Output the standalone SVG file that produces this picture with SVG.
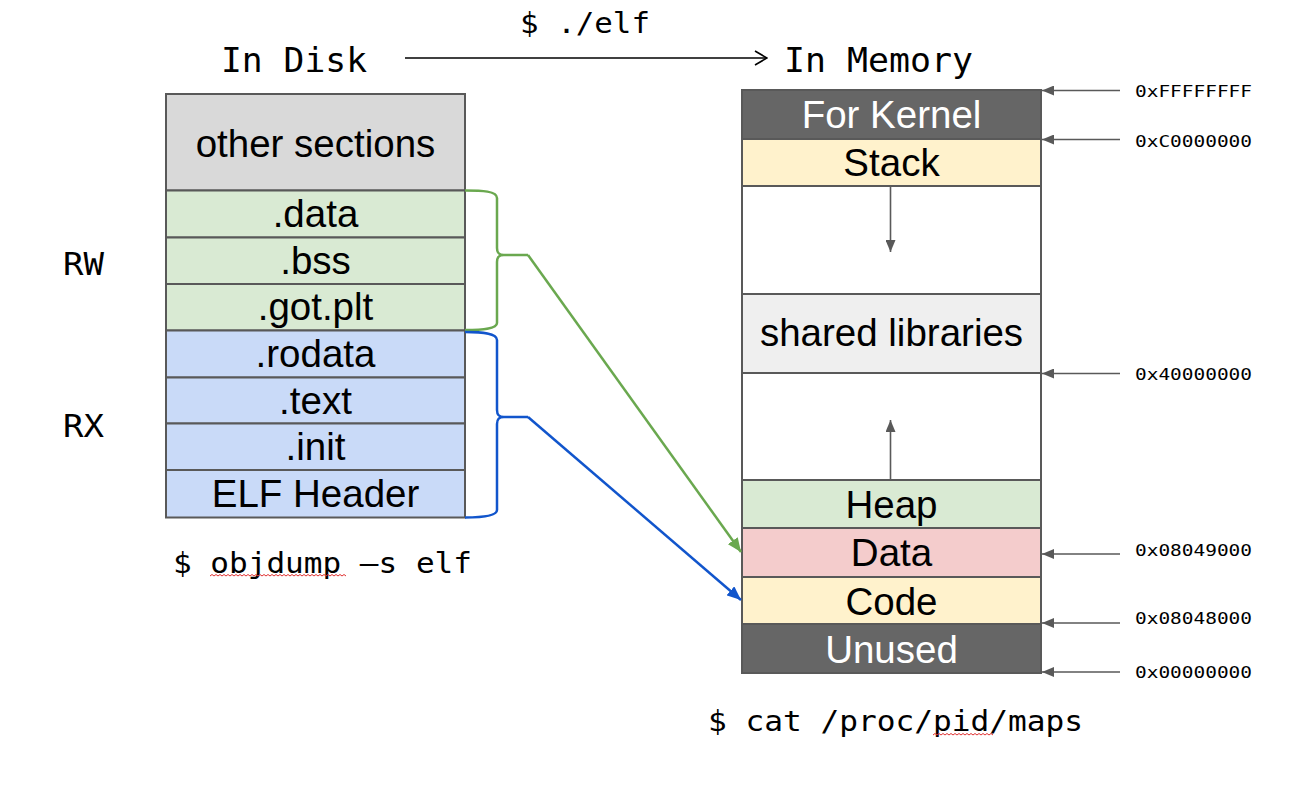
<svg xmlns="http://www.w3.org/2000/svg" width="1305" height="786" viewBox="0 0 1305 786">
<defs>
<style>
.box{stroke:#595959;stroke-width:2}
.sans{font-family:"Liberation Sans",Arial,sans-serif;font-size:38.5px;text-anchor:middle;fill:#000}
.wt{fill:#fff}
.mono{font-family:"DejaVu Sans Mono","Liberation Mono",monospace;fill:#000}
.addr{font-family:"DejaVu Sans Mono","Liberation Mono",monospace;font-size:16px;fill:#000}
.gl{stroke:#595959;stroke-width:1.6;fill:none}
.sq{stroke:#e03030;stroke-width:1;fill:none}
</style>
<marker id="ahGray" viewBox="0 0 12 10" refX="12" refY="5" markerWidth="12" markerHeight="10" markerUnits="userSpaceOnUse" orient="auto"><path d="M0,0 L12,5 L0,10 z" fill="#595959"/></marker>
<marker id="ahG" viewBox="0 0 14 12" refX="14" refY="6" markerWidth="14" markerHeight="12" markerUnits="userSpaceOnUse" orient="auto"><path d="M0,0 L14,6 L0,12 z" fill="#6aa84f"/></marker>
<marker id="ahB" viewBox="0 0 14 12" refX="14" refY="6" markerWidth="14" markerHeight="12" markerUnits="userSpaceOnUse" orient="auto"><path d="M0,0 L14,6 L0,12 z" fill="#1155cc"/></marker>
<marker id="ahOpen" viewBox="0 0 14 16" refX="13" refY="8" markerWidth="14" markerHeight="16" markerUnits="userSpaceOnUse" orient="auto"><path d="M1,1 L13,8 L1,15" fill="none" stroke="#000" stroke-width="1.6"/></marker>
</defs>
<rect width="1305" height="786" fill="#fff"/>

<!-- titles -->
<g id="title-disk"><text class="mono" x="221" y="72" font-size="34" textLength="146" lengthAdjust="spacingAndGlyphs">In Disk</text></g>
<g id="title-memory"><text class="mono" x="784" y="72" font-size="34" textLength="189" lengthAdjust="spacingAndGlyphs">In Memory</text></g>
<g id="label-run"><text class="mono" x="520" y="33" font-size="28" textLength="130" lengthAdjust="spacingAndGlyphs">$ ./elf</text></g>
<g id="label-rw"><text class="mono" x="63" y="275" font-size="32" textLength="41" lengthAdjust="spacingAndGlyphs">RW</text></g>
<g id="label-rx"><text class="mono" x="63" y="437" font-size="32" textLength="41" lengthAdjust="spacingAndGlyphs">RX</text></g>
<g id="label-objdump">
<text class="mono" x="173" y="573" font-size="29" textLength="299" lengthAdjust="spacingAndGlyphs">$ objdump –s elf</text>
<path class="sq" d="M210,576 l2,-1.5 l2,1.5 l2,-1.5 l2,1.5 l2,-1.5 l2,1.5 l2,-1.5 l2,1.5 l2,-1.5 l2,1.5 l2,-1.5 l2,1.5 l2,-1.5 l2,1.5 l2,-1.5 l2,1.5 l2,-1.5 l2,1.5 l2,-1.5 l2,1.5 l2,-1.5 l2,1.5 l2,-1.5 l2,1.5 l2,-1.5 l2,1.5 l2,-1.5 l2,1.5 l2,-1.5 l2,1.5 l2,-1.5 l2,1.5 l2,-1.5 l2,1.5 l2,-1.5 l2,1.5 l2,-1.5 l2,1.5 l2,-1.5 l2,1.5 l2,-1.5 l2,1.5 l2,-1.5 l2,1.5 l2,-1.5 l2,1.5 l2,-1.5 l2,1.5 l2,-1.5 l2,1.5 l2,-1.5 l2,1.5 l2,-1.5 l2,1.5 l2,-1.5 l2,1.5 l2,-1.5 l2,1.5 l2,-1.5 l2,1.5 l2,-1.5 l2,1.5 l2,-1.5 l2,1.5 l2,-1.5 l2,1.5 l2,-1.5 l2,1.5"/>
</g>
<g id="label-maps">
<text class="mono" x="708" y="731" font-size="29" textLength="375" lengthAdjust="spacingAndGlyphs">$ cat /proc/pid/maps</text>
<path class="sq" d="M933,735 l2,-1.5 l2,1.5 l2,-1.5 l2,1.5 l2,-1.5 l2,1.5 l2,-1.5 l2,1.5 l2,-1.5 l2,1.5 l2,-1.5 l2,1.5 l2,-1.5 l2,1.5 l2,-1.5 l2,1.5 l2,-1.5 l2,1.5 l2,-1.5 l2,1.5 l2,-1.5 l2,1.5 l2,-1.5 l2,1.5 l2,-1.5 l2,1.5 l2,-1.5 l2,1.5 l2,-1.5 l2,1.5"/>
</g>

<!-- disk sections -->
<g id="disk-other"><rect class="box" x="166" y="94" width="299" height="96.5" fill="#d9d9d9"/><text class="sans" x="315.5" y="157">other sections</text></g>
<g id="disk-data"><rect class="box" x="166" y="190.5" width="299" height="47" fill="#d9ead3"/><text class="sans" x="315.5" y="227">.data</text></g>
<g id="disk-bss"><rect class="box" x="166" y="237.5" width="299" height="46.5" fill="#d9ead3"/><text class="sans" x="315.5" y="274">.bss</text></g>
<g id="disk-gotplt"><rect class="box" x="166" y="284" width="299" height="46.5" fill="#d9ead3"/><text class="sans" x="315.5" y="320">.got.plt</text></g>
<g id="disk-rodata"><rect class="box" x="166" y="330.5" width="299" height="47" fill="#c9daf8"/><text class="sans" x="315.5" y="367">.rodata</text></g>
<g id="disk-text"><rect class="box" x="166" y="377.5" width="299" height="46" fill="#c9daf8"/><text class="sans" x="315.5" y="414">.text</text></g>
<g id="disk-init"><rect class="box" x="166" y="423.5" width="299" height="46.5" fill="#c9daf8"/><text class="sans" x="315.5" y="460">.init</text></g>
<g id="disk-elfheader"><rect class="box" x="166" y="470" width="299" height="47.5" fill="#c9daf8"/><text class="sans" x="315.5" y="507">ELF Header</text></g>

<!-- memory segments -->
<g id="mem-kernel"><rect class="box" x="742" y="90" width="299" height="49" fill="#666666"/><text class="sans wt" x="891.5" y="128">For Kernel</text></g>
<g id="mem-stack"><rect class="box" x="742" y="139" width="299" height="47" fill="#fff2cc"/><text class="sans" x="891.5" y="176">Stack</text></g>
<g id="mem-gap1"><rect class="box" x="742" y="186" width="299" height="108" fill="#fff"/></g>
<g id="mem-shlib"><rect class="box" x="742" y="294" width="299" height="79" fill="#efefef"/><text class="sans" x="891.5" y="346">shared libraries</text></g>
<g id="mem-gap2"><rect class="box" x="742" y="373" width="299" height="107" fill="#fff"/></g>
<g id="mem-heap"><rect class="box" x="742" y="480" width="299" height="48" fill="#d9ead3"/><text class="sans" x="891.5" y="518">Heap</text></g>
<g id="mem-data"><rect class="box" x="742" y="528" width="299" height="49" fill="#f4cccc"/><text class="sans" x="891.5" y="566">Data</text></g>
<g id="mem-code"><rect class="box" x="742" y="577" width="299" height="47" fill="#fff2cc"/><text class="sans" x="891.5" y="615">Code</text></g>
<g id="mem-unused"><rect class="box" x="742" y="624" width="299" height="49" fill="#666666"/><text class="sans wt" x="891.5" y="663">Unused</text></g>

<!-- address labels -->
<g id="addr-ffffffff"><text class="addr" x="1135" y="97" textLength="117" lengthAdjust="spacingAndGlyphs">0xFFFFFFFF</text></g>
<g id="addr-c0000000"><text class="addr" x="1135" y="147" textLength="117" lengthAdjust="spacingAndGlyphs">0xC0000000</text></g>
<g id="addr-40000000"><text class="addr" x="1135" y="380" textLength="117" lengthAdjust="spacingAndGlyphs">0x40000000</text></g>
<g id="addr-08049000"><text class="addr" x="1135" y="556" textLength="117" lengthAdjust="spacingAndGlyphs">0x08049000</text></g>
<g id="addr-08048000"><text class="addr" x="1135" y="624" textLength="117" lengthAdjust="spacingAndGlyphs">0x08048000</text></g>
<g id="addr-00000000"><text class="addr" x="1135" y="678" textLength="117" lengthAdjust="spacingAndGlyphs">0x00000000</text></g>

<!-- connectors -->
<g id="connectors">
<line x1="405" y1="58" x2="767" y2="58" stroke="#000" stroke-width="1.6" marker-end="url(#ahOpen)"/>
<line class="gl" x1="890.5" y1="187" x2="890.5" y2="252" marker-end="url(#ahGray)"/>
<line class="gl" x1="890.5" y1="479" x2="890.5" y2="420" marker-end="url(#ahGray)"/>
<line class="gl" x1="1120" y1="90.5" x2="1042" y2="90.5" marker-end="url(#ahGray)"/>
<line class="gl" x1="1120" y1="139.5" x2="1042" y2="139.5" marker-end="url(#ahGray)"/>
<line class="gl" x1="1120" y1="373.5" x2="1042" y2="373.5" marker-end="url(#ahGray)"/>
<line class="gl" x1="1120" y1="554" x2="1042" y2="554" marker-end="url(#ahGray)"/>
<line class="gl" x1="1120" y1="623" x2="1042" y2="623" marker-end="url(#ahGray)"/>
<line class="gl" x1="1120" y1="672" x2="1042" y2="672" marker-end="url(#ahGray)"/>
<path d="M465,190.5 C482,190.5 497,191 497,198 L497,248 C497,253 499,255 504,255 L528,255 M504,255 C499,255 497,257 497,262 L497,323 C497,329 482,330 465,330" fill="none" stroke="#6aa84f" stroke-width="2.5"/>
<path d="M465,332 C482,332 497,333 497,340 L497,410 C497,415 499,417 504,417 L528,417 M504,417 C499,417 497,419 497,424 L497,510 C497,516 482,517.5 465,517.5" fill="none" stroke="#1155cc" stroke-width="2.5"/>
<line x1="528" y1="255" x2="741" y2="552" stroke="#6aa84f" stroke-width="2.5" marker-end="url(#ahG)"/>
<line x1="528" y1="417" x2="741" y2="600" stroke="#1155cc" stroke-width="2.5" marker-end="url(#ahB)"/>
</g>
</svg>
